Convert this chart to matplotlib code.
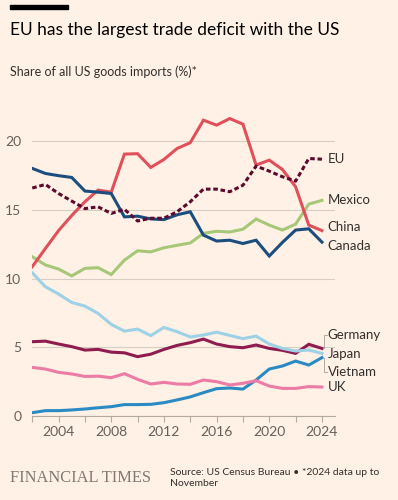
#################################################################################
# US goods imports share by partner, FT style line chart
#################################################################################
from matplotlib import pyplot as plt
from matplotlib.patches import Rectangle

# data (share of all US goods imports, %)
years = list(range(2002, 2025))
eu = [16.6, 16.86, 16.2, 15.65, 15.1, 15.23, 14.75, 15.05, 14.2, 14.4, 14.4, 14.87,
      15.6, 16.52, 16.52, 16.33, 16.8, 18.2, 17.83, 17.42, 17.1, 18.75, 18.7]
mexico = [11.6, 11.0, 10.7, 10.2, 10.75, 10.8, 10.3, 11.35, 12.03, 11.95, 12.25, 12.43,
          12.6, 13.3, 13.45, 13.4, 13.6, 14.34, 13.9, 13.54, 13.97, 15.43, 15.7]
china = [10.87, 12.2, 13.5, 14.6, 15.6, 16.45, 16.3, 19.07, 19.1, 18.1, 18.68, 19.48,
         19.9, 21.54, 21.18, 21.66, 21.25, 18.27, 18.63, 17.95, 16.69, 13.9, 13.5]
canada = [18.03, 17.66, 17.5, 17.37, 16.38, 16.3, 16.2, 14.5, 14.55, 14.35, 14.3, 14.65,
          14.87, 13.17, 12.74, 12.8, 12.56, 12.8, 11.65, 12.64, 13.54, 13.63, 12.66]
germany = [5.41, 5.45, 5.24, 5.05, 4.8, 4.85, 4.65, 4.6, 4.32, 4.5, 4.85, 5.14,
           5.34, 5.6, 5.24, 5.05, 4.97, 5.17, 4.92, 4.78, 4.56, 5.22, 4.92]
japan = [10.43, 9.41, 8.88, 8.27, 8.0, 7.47, 6.67, 6.18, 6.33, 5.85, 6.45, 6.14,
         5.75, 5.9, 6.1, 5.87, 5.63, 5.82, 5.24, 4.92, 4.73, 4.8, 4.56]
vietnam = [0.24, 0.39, 0.39, 0.44, 0.51, 0.6, 0.68, 0.83, 0.83, 0.85, 0.97, 1.17,
           1.39, 1.7, 1.99, 2.04, 1.96, 2.62, 3.42, 3.64, 4.0, 3.71, 4.25]
uk = [3.54, 3.42, 3.18, 3.06, 2.88, 2.9, 2.79, 3.08, 2.67, 2.33, 2.45, 2.33,
      2.31, 2.62, 2.5, 2.26, 2.38, 2.57, 2.18, 2.01, 2.01, 2.14, 2.11]

# label name, series, colour, label height
series = [
    ('EU', eu, '#5c0b2e', 18.7),
    ('Mexico', mexico, '#a6c777', 15.7),
    ('China', china, '#e0505b', 13.75),
    ('Canada', canada, '#1b4d7e', 12.37),
    ('Germany', germany, '#8f1c4e', 5.9),
    ('Japan', japan, '#9dd1e6', 4.55),
    ('Vietnam', vietnam, '#2a8ac3', 3.2),
    ('UK', uk, '#ec7ca6', 2.1),
]

BG = '#fff1e5'
GREY = '#66605c'
GRID = '#d9cdc3'


def plotting_chart():
    fig = plt.figure(figsize=(3.98, 5.0), dpi=100, facecolor=BG)
    ax = fig.add_axes([0.081, 0.168, 0.761, 0.618], facecolor=BG)

    for name, values, colour, label_y in series:
        if name == 'EU':
            ax.plot(years, values, color=colour, lw=2.2, ls=(0, (1.5, 0.9)),
                    zorder=3, solid_capstyle='butt')
        else:
            ax.plot(years, values, color=colour, lw=2.2, zorder=2,
                    solid_joinstyle='miter')
        end = values[-1]
        # small leader line when the label sits away from the line end
        if abs(end - label_y) > 0.3:
            ax.plot([2024.15, 2024.15, 2024.35], [end, label_y, label_y],
                    color='#b3a99f', lw=0.7, clip_on=False)
        ax.text(2024.45, label_y, name, fontsize=9.5, color='#33302e',
                va='center', ha='left', family='Lato', clip_on=False)

    ax.set_xlim(2002, 2025)
    ax.set_ylim(0, 22.5)
    ax.set_yticks([0, 5, 10, 15, 20])
    ax.set_xticks(range(2002, 2025, 2))
    ax.set_xticklabels([str(y) if y % 4 == 0 else '' for y in range(2002, 2025, 2)])
    ax.grid(axis='y', color=GRID, lw=0.8, zorder=0)
    ax.set_axisbelow(True)
    for side in ['top', 'right', 'left']:
        ax.spines[side].set_visible(False)
    ax.spines['bottom'].set_color('#b3a99f')
    ax.spines['bottom'].set_linewidth(0.8)
    ax.tick_params(axis='y', length=0, pad=8, labelsize=10, labelcolor=GREY)
    ax.tick_params(axis='x', length=4, width=0.8, color='#b3a99f', pad=3,
                   labelsize=10, labelcolor=GREY)
    for lab in ax.get_xticklabels() + ax.get_yticklabels():
        lab.set_family('Lato')

    # header: black bar, title, subtitle
    fig.patches.append(Rectangle((0.025, 0.982), 0.146, 0.008, color='#000000',
                                 transform=fig.transFigure, figure=fig))
    fig.text(0.025, 0.940, 'EU has the largest trade deficit with the US',
             fontsize=12.5, color='#000000', va='center', family='Lato')
    fig.text(0.025, 0.856, 'Share of all US goods imports (%)*',
             fontsize=9, color='#33302e', va='center', family='Lato')

    # footer
    fig.text(0.025, 0.044, 'FINANCIAL TIMES', fontsize=11.8, color='#807973',
             va='center', family='Liberation Serif')
    fig.text(0.427, 0.044, 'Source: US Census Bureau \u2022 *2024 data up to\nNovember',
             fontsize=7.5, color='#33302e', va='center', family='Lato',
             linespacing=1.15)

    fig.savefig('out.png', dpi=100, facecolor=BG)


def main():
    plotting_chart()

main()
